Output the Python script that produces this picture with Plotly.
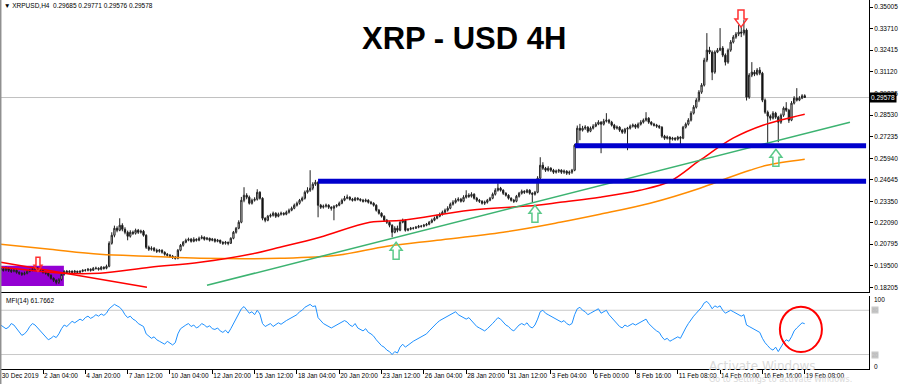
import plotly.graph_objects as go

# ---------------- data ----------------
time_labels = ["30 Dec 2019", "2 Jan 04:00", "4 Jan 20:00", "7 Jan 12:00", "10 Jan 04:00",
               "12 Jan 20:00", "15 Jan 12:00", "18 Jan 04:00", "20 Jan 20:00", "23 Jan 12:00",
               "26 Jan 04:00", "28 Jan 20:00", "31 Jan 12:00", "3 Feb 04:00", "6 Feb 00:00",
               "8 Feb 16:00", "11 Feb 08:00", "14 Feb 00:00", "16 Feb 16:00", "19 Feb 08:00"]
label_index = [0, 16, 32, 48, 64, 80, 96, 112, 128, 144, 160, 176, 192, 208, 224, 240, 256, 272, 288, 304]

price_ticks = [0.35005, 0.33710, 0.32415, 0.31120, 0.29825, 0.28530, 0.27235,
               0.25940, 0.24645, 0.23350, 0.22090, 0.20795, 0.19500, 0.18205]

first_open = 0.1934
close = [
    .1928, .1922, .1934, .1922, .1916, .1922, .1910, .1904, .1898, .1904,
    .1916, .1922, .1928, .1934, .1928, .1922, .1910, .1904, .1892, .1874,
    .1862, .1850, .1868, .1898, .1916, .1910, .1916, .1910, .1916, .1910,
    .1916, .1922, .1922, .1928, .1922, .1934, .1934, .1928, .1940, .1934,
    .1946, .2084, .2132, .2174, .2162, .2192, .2168, .2150, .2126, .2150,
    .2144, .2162, .2150, .2156, .2132, .2060, .2048, .2054, .2042, .2036,
    .2042, .2030, .2018, .2012, .2006, .2000, .1994, .2042, .2072, .2090,
    .2102, .2108, .2096, .2108, .2102, .2114, .2120, .2108, .2114, .2102,
    .2108, .2096, .2102, .2090, .2084, .2090, .2084, .2114, .2150, .2174,
    .2210, .2342, .2372, .2360, .2324, .2342, .2348, .2390, .2354, .2234,
    .2222, .2246, .2252, .2264, .2246, .2258, .2264, .2258, .2270, .2282,
    .2294, .2312, .2324, .2342, .2354, .2390, .2402, .2414, .2438, .2450,
    .2312, .2300, .2306, .2312, .2300, .2294, .2306, .2312, .2324, .2342,
    .2354, .2360, .2348, .2342, .2354, .2348, .2342, .2336, .2342, .2330,
    .2324, .2312, .2282, .2264, .2246, .2222, .2210, .2192, .2150, .2174,
    .2162, .2210, .2222, .2162, .2168, .2174, .2174, .2180, .2186, .2186,
    .2192, .2198, .2210, .2222, .2234, .2246, .2258, .2270, .2282, .2294,
    .2318, .2330, .2342, .2348, .2336, .2360, .2372, .2366, .2378, .2354,
    .2342, .2336, .2324, .2330, .2342, .2354, .2378, .2402, .2414, .2402,
    .2384, .2372, .2354, .2342, .2336, .2366, .2384, .2396, .2390, .2402,
    .2384, .2378, .2390, .2474, .2552, .2534, .2522, .2534, .2522, .2510,
    .2516, .2522, .2510, .2516, .2504, .2510, .2522, .2672, .2774, .2762,
    .2774, .2780, .2756, .2774, .2786, .2798, .2810, .2798, .2816, .2822,
    .2810, .2792, .2774, .2780, .2762, .2750, .2768, .2774, .2786, .2792,
    .2780, .2798, .2810, .2822, .2834, .2810, .2798, .2792, .2786, .2780,
    .2726, .2714, .2720, .2708, .2714, .2708, .2720, .2714, .2780, .2798,
    .2822, .2864, .2900, .2942, .2990, .3032, .3182, .3242, .3230, .3110,
    .3230, .3242, .3254, .3212, .3170, .3242, .3290, .3320, .3338, .3350,
    .3344, .3362, .2960, .3092, .3110, .3098, .3122, .3104, .2942, .2870,
    .2846, .2834, .2864, .2840, .2810, .2852, .2894, .2882, .2822, .2924,
    .2954, .2942, .2954, .29685, .29578]
high = [
    .1942, .1936, .1944, .1940, .1930, .1932, .1928, .1916, .1912, .1914,
    .1924, .1930, .1938, .1944, .1942, .1936, .1928, .1916, .1910, .1898,
    .1880, .1868, .1874, .1904, .1922, .1924, .1922, .1922, .1924, .1920,
    .1922, .1928, .1930, .1936, .1934, .1942, .1944, .1940, .1948, .1946,
    .1956, .2096, .2150, .2190, .2186, .2234, .2204, .2180, .2160, .2162,
    .2160, .2172, .2170, .2166, .2164, .2138, .2070, .2066, .2062, .2052,
    .2050, .2048, .2036, .2026, .2020, .2014, .2008, .2050, .2080, .2098,
    .2112, .2118, .2116, .2120, .2114, .2124, .2132, .2126, .2122, .2118,
    .2116, .2114, .2110, .2106, .2096, .2098, .2094, .2120, .2158, .2182,
    .2222, .2362, .2420, .2384, .2370, .2352, .2360, .2408, .2396, .2360,
    .2240, .2254, .2262, .2274, .2270, .2268, .2274, .2270, .2280, .2292,
    .2304, .2322, .2334, .2350, .2364, .2400, .2420, .2522, .2450, .2464,
    .2456, .2320, .2316, .2322, .2318, .2306, .2312, .2318, .2334, .2352,
    .2368, .2376, .2366, .2356, .2362, .2360, .2354, .2350, .2352, .2348,
    .2338, .2330, .2318, .2290, .2270, .2252, .2230, .2216, .2198, .2186,
    .2190, .2218, .2232, .2228, .2176, .2182, .2182, .2188, .2194, .2194,
    .2200, .2206, .2218, .2232, .2244, .2256, .2268, .2280, .2292, .2306,
    .2328, .2342, .2354, .2360, .2356, .2372, .2402, .2384, .2390, .2384,
    .2362, .2350, .2342, .2340, .2350, .2362, .2388, .2414, .2444, .2422,
    .2408, .2390, .2378, .2360, .2350, .2374, .2392, .2406, .2402, .2410,
    .2408, .2390, .2398, .2486, .2600, .2570, .2542, .2546, .2540, .2530,
    .2526, .2530, .2528, .2526, .2522, .2520, .2530, .2680, .2790, .2800,
    .2788, .2792, .2786, .2784, .2798, .2810, .2822, .2816, .2830, .2864,
    .2830, .2818, .2800, .2790, .2786, .2770, .2776, .2782, .2796, .2802,
    .2800, .2808, .2822, .2832, .2870, .2840, .2816, .2806, .2800, .2794,
    .2786, .2734, .2730, .2726, .2722, .2720, .2728, .2726, .2788, .2808,
    .2834, .2876, .2912, .2954, .3002, .3044, .3196, .3344, .3262, .3240,
    .3240, .3254, .3374, .3266, .3222, .3252, .3302, .3332, .3350, .3392,
    .3380, .3422, .3372, .3104, .3170, .3122, .3134, .3140, .3112, .2952,
    .2880, .2856, .2876, .2872, .2848, .2862, .2904, .2930, .2890, .2936,
    .2966, .3014, .2966, .2978, .29771]
low = [
    .1920, .1914, .1916, .1912, .1906, .1910, .1902, .1894, .1888, .1892,
    .1898, .1910, .1916, .1922, .1920, .1914, .1902, .1896, .1884, .1866,
    .1852, .1838, .1840, .1860, .1890, .1904, .1906, .1904, .1904, .1904,
    .1906, .1910, .1914, .1916, .1914, .1918, .1926, .1920, .1922, .1926,
    .1928, .1940, .2076, .2120, .2150, .2156, .2156, .2138, .2102, .2118,
    .2134, .2136, .2140, .2142, .2124, .2050, .2038, .2040, .2034, .2026,
    .2028, .2022, .2010, .2004, .1998, .1990, .1986, .1988, .2036, .2064,
    .2084, .2096, .2088, .2090, .2094, .2096, .2108, .2100, .2102, .2094,
    .2096, .2088, .2090, .2080, .2074, .2076, .2072, .2080, .2108, .2142,
    .2168, .2204, .2330, .2348, .2316, .2316, .2334, .2340, .2346, .2222,
    .2210, .2216, .2238, .2244, .2236, .2240, .2250, .2250, .2252, .2262,
    .2276, .2288, .2304, .2316, .2334, .2346, .2382, .2392, .2402, .2428,
    .2240, .2290, .2292, .2298, .2290, .2280, .2222, .2298, .2306, .2318,
    .2336, .2348, .2340, .2334, .2336, .2340, .2334, .2328, .2330, .2322,
    .2316, .2304, .2274, .2256, .2238, .2214, .2200, .2180, .2120, .2144,
    .2150, .2156, .2204, .2154, .2156, .2162, .2166, .2170, .2174, .2178,
    .2180, .2186, .2192, .2204, .2216, .2228, .2240, .2250, .2262, .2274,
    .2288, .2310, .2322, .2334, .2328, .2330, .2352, .2356, .2358, .2346,
    .2332, .2326, .2316, .2314, .2322, .2336, .2348, .2370, .2394, .2394,
    .2374, .2364, .2346, .2334, .2326, .2330, .2358, .2376, .2380, .2384,
    .2376, .2330, .2370, .2384, .2466, .2524, .2512, .2514, .2512, .2500,
    .2502, .2506, .2500, .2500, .2494, .2494, .2500, .2516, .2662, .2702,
    .2754, .2764, .2746, .2750, .2766, .2780, .2792, .2624, .2790, .2808,
    .2800, .2784, .2764, .2766, .2752, .2740, .2740, .2642, .2766, .2778,
    .2770, .2772, .2790, .2802, .2814, .2800, .2790, .2784, .2776, .2770,
    .2716, .2704, .2706, .2666, .2700, .2698, .2700, .2670, .2708, .2772,
    .2790, .2814, .2856, .2892, .2930, .2980, .3024, .3170, .3218, .3062,
    .3100, .3224, .3236, .3200, .3150, .3160, .3232, .3282, .3310, .3326,
    .3320, .3330, .2940, .2950, .3080, .3086, .3090, .3092, .2930, .2860,
    .2684, .2820, .2826, .2830, .2690, .2800, .2842, .2872, .2806, .2816,
    .2916, .2934, .2936, .2948, .29576]

mfi = [
    60, 58, 55, 57, 62, 60, 55, 50, 46, 48,
    52, 58, 62, 60, 56, 52, 48, 44, 40, 42,
    45, 43, 48, 55, 60, 58, 62, 65, 63, 66,
    68, 66, 70, 72, 69, 71, 74, 72, 75, 73,
    76, 82, 85, 88, 86, 84, 80, 74, 70, 72,
    68, 66, 62, 60, 58, 48, 45, 42, 44, 40,
    38, 36, 34, 38, 35, 33, 36, 48, 55, 58,
    60, 62, 58, 60, 56, 58, 62, 60, 57, 59,
    55, 54, 56, 52, 50, 53, 49, 55, 62, 68,
    74, 82, 85, 80, 76, 78, 74, 80, 75, 62,
    58, 60, 62, 58, 60, 63, 61, 64, 66, 68,
    70, 72, 74, 78, 80, 84, 86, 88, 85, 86,
    70, 66, 62, 60, 58, 56, 58, 60, 62, 64,
    66, 64, 60, 58, 62, 56, 54, 52, 55, 50,
    48, 45, 40, 36, 32, 30, 26, 24, 20, 24,
    22, 30, 34, 30, 33, 36, 38, 40, 42, 44,
    46, 48, 52, 56, 60, 63, 66, 68, 70, 72,
    75, 76, 78, 74, 72, 70, 68, 70, 66, 62,
    58, 56, 54, 52, 55, 58, 62, 66, 70, 68,
    64, 60, 58, 54, 52, 56, 60, 62, 60, 63,
    58, 56, 60, 68, 78, 80, 76, 74, 72, 70,
    68, 66, 64, 66, 62, 60, 62, 74, 82, 84,
    80, 78, 74, 76, 78, 80, 82, 76, 78, 80,
    74, 70, 66, 62, 58, 56, 60, 58, 60, 62,
    60, 62, 64, 66, 68, 62, 58, 55, 52, 50,
    44, 40, 42, 38, 40, 42, 44, 42, 50, 56,
    62, 68, 72, 76, 80, 84, 90, 92, 88, 82,
    86, 84, 86, 80, 76, 78, 80, 78, 76, 74,
    72, 74, 60, 58, 56, 54, 52, 50, 42, 36,
    32, 28, 26, 30, 24, 30, 36, 40, 38, 44,
    52, 56, 60, 63, 61.7662]

# moving averages (bar index / price)
red_ma_idx = [0, 11.1, 23.6, 37.5, 56.5, 75.4, 94.3, 105.6, 120.7, 139.6, 152.1, 177.4,
              202.8, 211.5, 226.6, 241.7, 253.1, 264.4, 276.9, 288.2, 304]
red_ma_val = [0.1940, 0.1922, 0.1904, 0.1904, 0.1940, 0.1970, 0.2018, 0.2060, 0.2120, 0.2210,
              0.2222, 0.2282, 0.2312, 0.2330, 0.2360, 0.2402, 0.2456, 0.2582, 0.2714, 0.2792, 0.2858]
orange_ma_idx = [0, 18.6, 37.5, 56.5, 75.4, 105.6, 127.2, 146.1, 165.0, 190.0, 211.5,
                 226.6, 245.5, 264.4, 274.6, 283.3, 289.7, 304]
orange_ma_val = [0.2078, 0.2048, 0.2018, 0.2006, 0.1994, 0.1994, 0.2012, 0.2066, 0.2102, 0.2150,
                 0.2210, 0.2258, 0.2324, 0.2414, 0.2474, 0.2522, 0.2552, 0.2588]

# drawn objects
green_tl_idx = [78.0, 321.1]
green_tl_val = [0.1832, 0.2810]
red_tl_idx = [0, 55.3]
red_tl_val = [0.1970, 0.1820]
support_start = [120.0, 217.1]
support_level = [0.2456, 0.2669]
support_end = 327.2
box_idx = [-0.26, 23.9]
box_val = [0.1828, 0.1949]
arrow_idx = [14.1, 279.9, 149.5, 202.0, 293.1]
arrow_tip = [0.1916, 0.3380, 0.2090, 0.2312, 0.2648]
arrow_dir = ["down", "down", "up", "up", "up"]
arrow_big = [False, True, True, True, True]
circle_idx = [294.6, 310.5]
circle_mfi = [23.5, 84.9]

# ---------------- figure ----------------
open_ = [first_open] + close[:-1]
n = len(close)
idx = list(range(n))

FONT = "Liberation Sans"
fig = go.Figure()

fig.add_trace(go.Candlestick(
    x=idx, open=open_, high=high, low=low, close=close,
    increasing=dict(line=dict(color="#202020", width=1), fillcolor="white"),
    decreasing=dict(line=dict(color="#202020", width=1), fillcolor="black"),
    whiskerwidth=0, xaxis="x", yaxis="y", showlegend=False, hoverinfo="skip"))

fig.add_trace(go.Scatter(x=orange_ma_idx, y=orange_ma_val, mode="lines", line=dict(color="#FF8C00", width=1.5, shape="spline"),
                         xaxis="x", yaxis="y", showlegend=False, hoverinfo="skip"))
fig.add_trace(go.Scatter(x=red_ma_idx, y=red_ma_val, mode="lines", line=dict(color="#FF0000", width=1.5, shape="spline"),
                         xaxis="x", yaxis="y", showlegend=False, hoverinfo="skip"))
fig.add_trace(go.Scatter(x=green_tl_idx, y=green_tl_val, mode="lines", line=dict(color="#3CB371", width=1.5),
                         xaxis="x", yaxis="y", showlegend=False, hoverinfo="skip"))
fig.add_trace(go.Scatter(x=red_tl_idx, y=red_tl_val, mode="lines", line=dict(color="#FF0000", width=1.5),
                         xaxis="x", yaxis="y", showlegend=False, hoverinfo="skip"))

fig.add_trace(go.Scatter(x=idx, y=mfi, mode="lines", line=dict(color="#1E90FF", width=1),
                         xaxis="x2", yaxis="y2", showlegend=False, hoverinfo="skip"))

shapes = []
shapes.append(dict(type="rect", xref="x", yref="y", x0=box_idx[0], x1=box_idx[1], y0=box_val[0], y1=box_val[1],
                   fillcolor="#9400D3", line=dict(width=0), layer="below"))
for s, lv in zip(support_start, support_level):
    shapes.append(dict(type="line", xref="x", yref="y", x0=s, x1=support_end, y0=lv, y1=lv,
                       line=dict(color="#0000CD", width=5)))
shapes.append(dict(type="line", xref="x domain", yref="y", x0=0, x1=1, y0=close[-1], y1=close[-1],
                   line=dict(color="#C0C0C0", width=1), layer="below"))
ppx_i = 1 / 2.645
ppx_p = 0.0005995
for xi, tip, d, big in zip(arrow_idx, arrow_tip, arrow_dir, arrow_big):
    hw = (6 if big else 4) * ppx_i
    sw = (3 if big else 2) * ppx_i
    hh = (8 if big else 6) * ppx_p
    H = (17 if big else 14) * ppx_p
    sg = -1 if d == "up" else 1
    pts = [(xi, tip), (xi + hw, tip + sg * hh), (xi + sw, tip + sg * hh), (xi + sw, tip + sg * H),
           (xi - sw, tip + sg * H), (xi - sw, tip + sg * hh), (xi - hw, tip + sg * hh)]
    path = "M " + " L ".join(f"{a},{b}" for a, b in pts) + " Z"
    col = "#FF3030" if d == "down" else "#5BC98A"
    shapes.append(dict(type="path", xref="x", yref="y", path=path, line=dict(color=col, width=1.5),
                       fillcolor="rgba(0,0,0,0)"))
for lv in (80, 20):
    shapes.append(dict(type="line", xref="x2 domain", yref="y2", x0=0, x1=1, y0=lv, y1=lv,
                       line=dict(color="#C8C8C8", width=1), layer="below"))
shapes.append(dict(type="circle", xref="x2", yref="y2", x0=circle_idx[0], x1=circle_idx[1],
                   y0=circle_mfi[0], y1=circle_mfi[1], line=dict(color="#FF0000", width=2)))
shapes.append(dict(type="line", xref="paper", yref="paper", x0=0.0008, x1=0.0008, y0=0, y1=1,
                   line=dict(color="#909090", width=1.5)))

xdom = [0, 869 / 900]
xr = [-0.26, 328.3]
main_dom = [1 - 292 / 384, 1.0]
mfi_dom = [1 - 369.3 / 384, 1 - 295.5 / 384]

annotations = [
    dict(text="Activate Windows", xref="paper", yref="paper", x=707 / 900, y=1 - 366 / 384, showarrow=False,
         font=dict(family="DejaVu Sans", size=12, color="#DADADA"), xanchor="left", yanchor="middle"),
    dict(text="Go to Settings to activate Windows.", xref="paper", yref="paper", x=707 / 900, y=1 - 379 / 384,
         showarrow=False, font=dict(family="DejaVu Sans", size=8, color="#DADADA"), xanchor="left",
         yanchor="middle"),
    dict(text="XRP - USD 4H", xref="paper", yref="paper", x=464 / 900, y=1 - 38 / 384, showarrow=False,
         font=dict(family=FONT, size=31, color="black", weight="bold"), xanchor="center", yanchor="middle"),
    dict(text="\u25BC XRPUSD,H4  0.29685 0.29771 0.29576 0.29578", xref="paper", yref="paper", x=2 / 900,
         y=1 - 5 / 384, showarrow=False, font=dict(family=FONT, size=6.5, color="black"),
         xanchor="left", yanchor="middle"),
    dict(text="MFI(14) 61.7662", xref="paper", yref="paper", x=4 / 900, y=1 - 301 / 384, showarrow=False,
         font=dict(family=FONT, size=6.5, color="black"), xanchor="left", yanchor="middle"),
    dict(text="0.29578", xref="paper", yref="y", x=869 / 900, y=close[-1], showarrow=False,
         font=dict(family=FONT, size=6.5, color="white"), bgcolor="black", xanchor="left", yanchor="middle",
         borderpad=1),
    dict(text="100", xref="paper", yref="paper", x=872 / 900, y=1 - 299 / 384, showarrow=False,
         font=dict(family=FONT, size=6.5, color="black"), xanchor="left", yanchor="middle"),
    dict(text="0", xref="paper", yref="paper", x=872 / 900, y=1 - 366 / 384, showarrow=False,
         font=dict(family=FONT, size=6.5, color="black"), xanchor="left", yanchor="middle"),
    dict(text="80", xref="paper", yref="y2", x=871 / 900, y=80, showarrow=False,
         font=dict(family=FONT, size=5.5, color="#B8B8B8"), bgcolor="#C8C8C8", xanchor="left", yanchor="middle",
         borderpad=0),
    dict(text="20", xref="paper", yref="y2", x=871 / 900, y=20, showarrow=False,
         font=dict(family=FONT, size=5.5, color="#B8B8B8"), bgcolor="#C8C8C8", xanchor="left", yanchor="middle",
         borderpad=0),
]

fig.update_layout(
    width=900, height=384, margin=dict(l=0, r=0, t=0, b=0),
    paper_bgcolor="white", plot_bgcolor="white", showlegend=False, hovermode=False,
    font=dict(family=FONT, size=6.5, color="black"),
    xaxis=dict(domain=xdom, range=xr, anchor="y", showgrid=False, zeroline=False, showticklabels=False,
               ticks="", showline=True, linecolor="black", linewidth=1, rangeslider=dict(visible=False)),
    yaxis=dict(domain=main_dom, range=[0.17920, 0.35425], side="right", anchor="x", showgrid=False,
               zeroline=False, tickvals=price_ticks, ticktext=[f"{v:.5f}" for v in price_ticks],
               ticks="outside", ticklen=3, tickcolor="black", showline=True, linecolor="black", linewidth=1,
               tickfont=dict(family=FONT, size=6.5, color="black")),
    xaxis2=dict(domain=xdom, range=xr, anchor="y2", matches="x", showgrid=False, zeroline=False,
                tickvals=label_index, ticktext=time_labels, ticks="outside", ticklen=4, tickcolor="black",
                tickangle=0, ticklabelposition="outside right", showline=True, linecolor="black", linewidth=1,
                tickfont=dict(family=FONT, size=6.5, color="black")),
    yaxis2=dict(domain=mfi_dom, range=[0, 100], side="right", anchor="x2", showgrid=False, zeroline=False,
                showticklabels=False, ticks="", showline=True, linecolor="black", linewidth=1),
    shapes=shapes, annotations=annotations,
)

fig.write_html("out.html")
